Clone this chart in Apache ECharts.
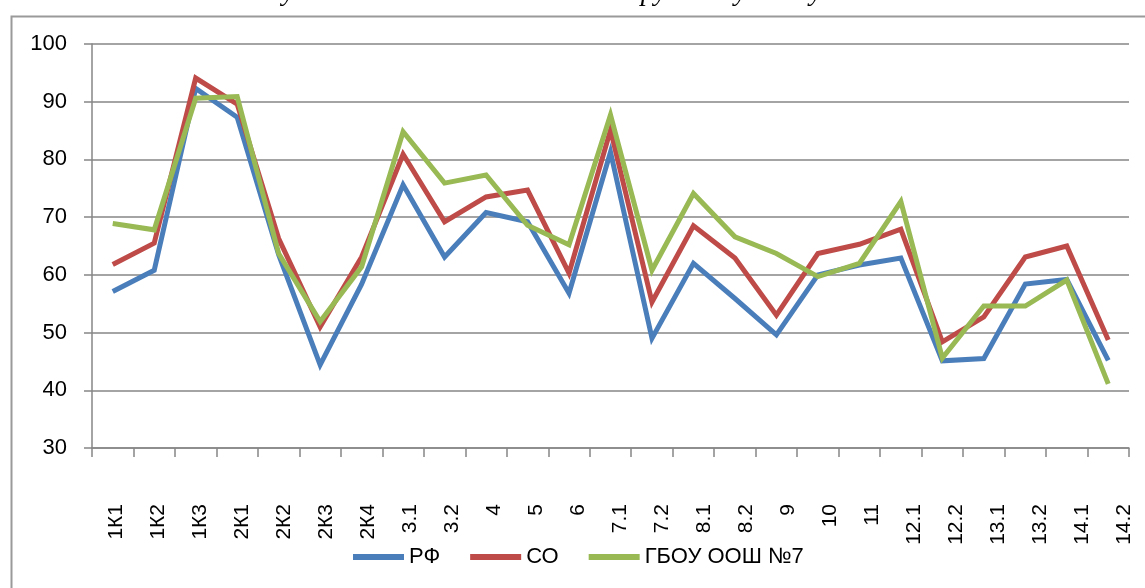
<!DOCTYPE html>
<html style="height: 100%">
   <head>
       <meta charset="utf-8">
   </head>
   <body style="height: 100%; margin: 0; background: #fff">
       <div id="container" style="width: 1145px; height: 588px"></div>
       <script type="text/javascript" src="https://cdn.jsdelivr.net/npm/echarts@6/dist/echarts.min.js"></script>
       <script type="text/javascript">
var categories = ['1К1', '1К2', '1К3', '2К1', '2К2', '2К3', '2К4', '3.1', '3.2', '4', '5', '6', '7.1',
    '7.2', '8.1', '8.2', '9', '10', '11', '12.1', '12.2', '13.1', '13.2', '14.1', '14.2'];
var rf = [57.1, 60.8, 92.3, 87.3, 63.5, 44.4, 58.4, 75.6, 63.1, 70.8, 69.2, 56.8, 81.3,
    49.0, 62.0, 55.9, 49.6, 60.0, 61.7, 62.9, 45.1, 45.5, 58.4, 59.2, 45.2];
var so = [61.8, 65.5, 94.1, 89.6, 66.3, 51.0, 63.1, 80.9, 69.2, 73.5, 74.7, 60.3, 85.1,
    55.3, 68.5, 62.9, 53.0, 63.7, 65.3, 67.9, 48.4, 52.7, 63.1, 65.0, 48.7];
var school = [68.9, 67.8, 90.6, 90.9, 63.7, 51.9, 61.4, 84.8, 75.9, 77.3, 68.6, 65.2, 87.7,
    60.8, 74.1, 66.6, 63.7, 59.7, 62.0, 72.7, 45.6, 54.6, 54.6, 59.1, 41.1];
var seriesNames = ['РФ', 'СО', 'ГБОУ ООШ №7'];
var colors = ['#4A7EBB', '#BE4B48', '#98B954'];

var dom = document.getElementById("container");
var myChart = echarts.init(dom);
var font = 'Liberation Sans';
var gray = '#868686';

function makeLine(name, data, color) {
    return {
        name: name,
        type: 'line',
        data: data,
        symbol: 'none',
        lineStyle: { color: color, width: 5, join: 'miter' },
        itemStyle: { color: color },
        animation: false
    };
}

var option = {
    backgroundColor: '#fff',
    textStyle: { fontFamily: font },
    graphic: [
        {
            type: 'rect',
            left: 9, top: 14,
            shape: { width: 1160, height: 600 },
            style: { fill: 'none', stroke: '#9a9a9a', lineWidth: 2 },
            silent: true
        },
        {
            // title is cut off at the top edge in the original
            type: 'text',
            x: 595, y: 7,
            style: {
                text: 'Результаты выполнения ВПР по русскому языку в 6 классе',
                font: 'italic 28px "Liberation Serif"',
                fill: '#000',
                align: 'center',
                verticalAlign: 'bottom'
            },
            silent: true
        }
    ],
    legend: {
        data: seriesNames,
        left: 348,
        top: 541,
        icon: 'rect',
        itemWidth: 51,
        itemHeight: 6,
        itemGap: 30,
        textStyle: { fontFamily: font, fontSize: 22, color: '#000' }
    },
    grid: [
        { left: 92, right: 16, top: 44, bottom: 140 },
        { left: 95, right: -5, top: 44, bottom: 140 }
    ],
    xAxis: [
        {
            type: 'category',
            data: categories,
            gridIndex: 0,
            boundaryGap: true,
            axisLine: { lineStyle: { color: gray, width: 1.5 } },
            axisTick: { show: true, length: 9, interval: 0, lineStyle: { color: gray, width: 1.5 } },
            axisLabel: { show: false }
        },
        {
            // label row only; Excel spreads the rotated labels slightly wider
            type: 'category',
            data: categories,
            gridIndex: 1,
            boundaryGap: true,
            axisLine: { show: false },
            axisTick: { show: false },
            axisLabel: {
                interval: 0,
                rotate: 90,
                margin: 56,
                fontFamily: font,
                fontSize: 21,
                color: '#000'
            }
        }
    ],
    yAxis: [
        {
            type: 'value',
            gridIndex: 0,
            min: 30,
            max: 100,
            interval: 10,
            axisLine: { show: true, lineStyle: { color: gray, width: 1.5 } },
            axisTick: { show: true, length: 8, lineStyle: { color: gray, width: 1.5 } },
            splitLine: { lineStyle: { color: gray, width: 1.5 } },
            axisLabel: { margin: 25, fontFamily: font, fontSize: 22, color: '#000' }
        },
        {
            type: 'value',
            gridIndex: 1,
            min: 30,
            max: 100,
            show: false
        }
    ],
    series: [
        makeLine(seriesNames[0], rf, colors[0]),
        makeLine(seriesNames[1], so, colors[1]),
        makeLine(seriesNames[2], school, colors[2])
    ]
};
myChart.setOption(option, true);
       </script>
   </body>
</html>
